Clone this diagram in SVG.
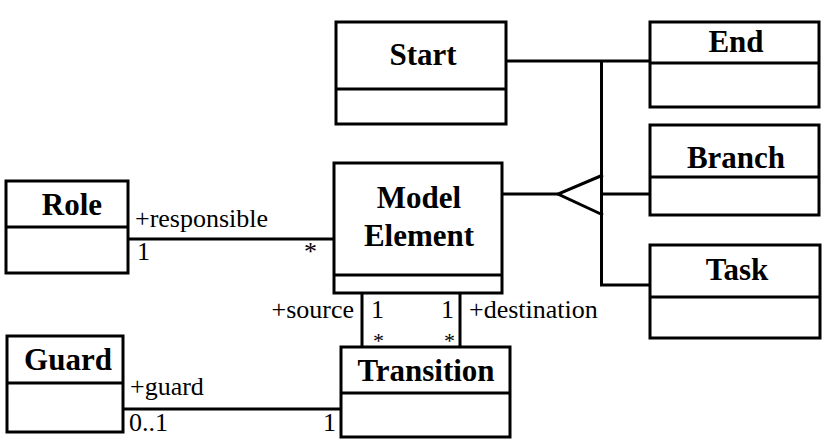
<svg xmlns="http://www.w3.org/2000/svg" width="828" height="447" viewBox="0 0 828 447">
<style>
.box{fill:#fff;stroke:#000;stroke-width:3}
.div{stroke:#000;stroke-width:3}
.name{font-family:'Liberation Serif','Times New Roman','DejaVu Serif',serif;font-weight:bold;font-size:31px;text-anchor:middle;fill:#000}
.lbl{font-family:'Liberation Serif','Times New Roman','DejaVu Serif',serif;font-size:26px;fill:#000}
.star{font-family:'Liberation Serif','Times New Roman','DejaVu Serif',serif;font-size:22px;fill:#000}
.conn{fill:none;stroke:#000;stroke-width:3}
</style>
<rect width="828" height="447" fill="#fff"/>
<g id="connectors">
<path class="conn" d="M506 61 H657"/>
<path class="conn" d="M601.5 61 V285 H650"/>
<path class="conn" d="M601.5 194 H653"/>
<path class="conn" d="M603 175 L558 194 L603 215"/>
<path class="conn" d="M503 194 H558"/>
<path class="conn" d="M125 239 H336"/>
<path class="conn" d="M362 293 V347"/>
<path class="conn" d="M460 293 V348"/>
<path class="conn" d="M123 409 H341"/>
<text class="lbl" x="135" y="227">+responsible</text>
<text class="lbl" x="137" y="260">1</text>
<text class="lbl" x="304" y="260">*</text>
<text class="lbl" x="354" y="318" text-anchor="end">+source</text>
<text class="lbl" x="371" y="318">1</text>
<text class="lbl" x="441" y="318">1</text>
<text class="lbl" x="469" y="318">+destination</text>
<text class="star" x="373" y="348">*</text>
<text class="star" x="444" y="348">*</text>
<text class="lbl" x="130" y="395">+guard</text>
<text class="lbl" x="129" y="431">0..1</text>
<text class="lbl" x="323" y="431">1</text>
</g>
<g id="start">
<rect class="box" x="336" y="22" width="170" height="102"/>
<line class="div" x1="336" y1="89" x2="506" y2="89"/>
<text class="name" x="423" y="65">Start</text>
</g>
<g id="end">
<rect class="box" x="650" y="22" width="169" height="85"/>
<line class="div" x1="650" y1="63" x2="819" y2="63"/>
<text class="name" x="736" y="52">End</text>
</g>
<g id="branch">
<rect class="box" x="650" y="125" width="169" height="90"/>
<line class="div" x1="650" y1="177" x2="819" y2="177"/>
<text class="name" x="736" y="168">Branch</text>
</g>
<g id="task">
<rect class="box" x="650" y="245" width="170" height="93"/>
<line class="div" x1="650" y1="297" x2="820" y2="297"/>
<text class="name" x="737" y="280">Task</text>
</g>
<g id="model-element">
<rect class="box" x="334" y="163" width="168" height="130"/>
<line class="div" x1="334" y1="275" x2="502" y2="275"/>
<text class="name" x="419" y="208">Model</text>
<text class="name" x="419" y="246">Element</text>
</g>
<g id="role">
<rect class="box" x="6" y="181" width="122" height="92"/>
<line class="div" x1="6" y1="227" x2="128" y2="227"/>
<text class="name" x="72" y="215">Role</text>
</g>
<g id="guard">
<rect class="box" x="7" y="336" width="116" height="96"/>
<line class="div" x1="7" y1="383" x2="123" y2="383"/>
<text class="name" x="68" y="370">Guard</text>
</g>
<g id="transition">
<rect class="box" x="341" y="347" width="169" height="90"/>
<line class="div" x1="341" y1="393" x2="510" y2="393"/>
<text class="name" x="426" y="381">Transition</text>
</g>
</svg>
